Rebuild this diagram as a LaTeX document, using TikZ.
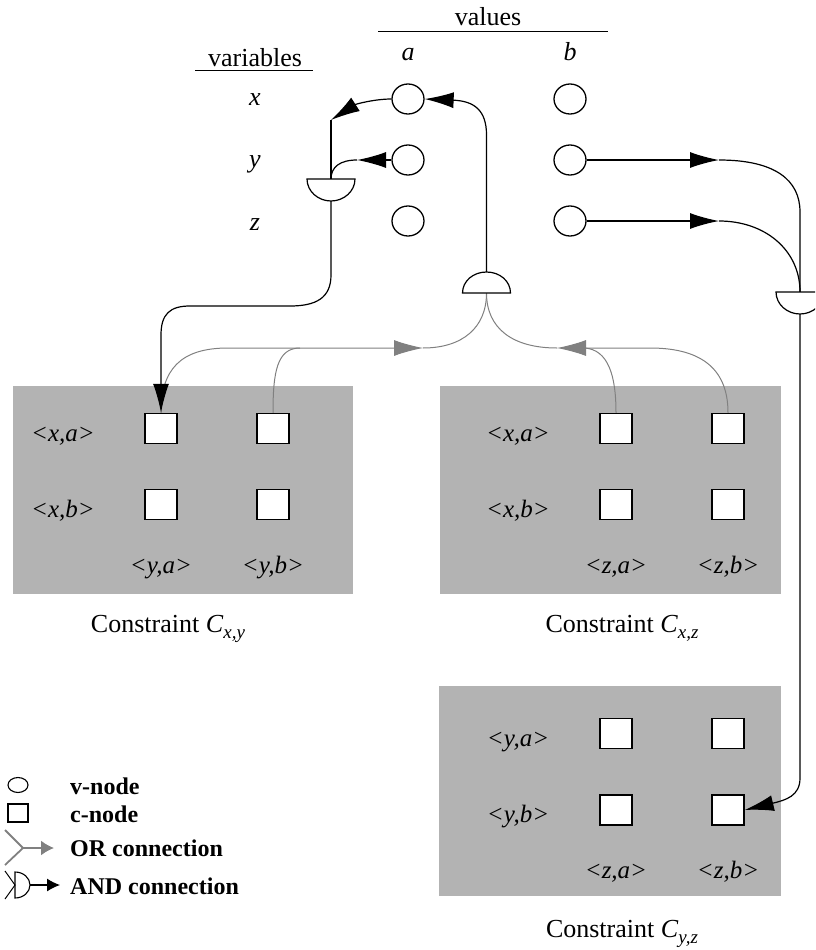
\documentclass[tikz,border=0pt]{standalone}
\usepackage{fontspec}
\setmainfont{Liberation Serif}
\usetikzlibrary{shapes.geometric,arrows.meta}
\definecolor{boxgray}{RGB}{179,179,179}
\definecolor{gry}{RGB}{128,128,128}
\tikzset{
  gatedn/.pic={\draw[line width=1.2pt,fill=white] (-24,0) -- (24,0) .. controls (24,12) and (13.2,22) .. (0,22) .. controls (-13.2,22) and (-24,12) .. (-24,0) -- cycle;},
  gateup/.pic={\draw[line width=1.2pt,fill=white] (-24,0) -- (24,0) .. controls (24,-12) and (13.2,-21) .. (0,-21) .. controls (-13.2,-21) and (-24,-12) .. (-24,0) -- cycle;}
}
\begin{document}
\begin{tikzpicture}[x=1pt,y=-1pt,
  vnode/.style={ellipse,draw,line width=1.3pt,minimum width=32pt,minimum height=30pt,inner sep=0pt,fill=white},
  cnode/.style={rectangle,draw,line width=1.5pt,minimum width=32pt,minimum height=30pt,inner sep=0pt,fill=white},
  txt/.style={inner sep=0pt,anchor=base,font=\fontsize{26}{30}\selectfont},
  itxt/.style={inner sep=0pt,anchor=base,font=\fontsize{26}{30}\selectfont\itshape},
  lbl/.style={inner sep=0pt,anchor=base,font=\fontsize{25}{30}\selectfont\itshape},
  legtxt/.style={inner sep=0pt,anchor=base west,font=\fontsize{24}{28}\selectfont\bfseries},
  blk/.style={line width=1.2pt,black},
  gryl/.style={line width=1pt,draw=gry},
  bar/.style={-{Latex[length=29pt,width=16pt]}},
  gbar/.style={-{Latex[length=29pt,width=16pt,fill=gry]}},
  cbox/.style={fill=boxgray,draw=none,inner sep=0pt,anchor=north west}
]
\clip (0,0) rectangle (815,950);
\useasboundingbox (0,0) rectangle (815,950);

% headers
\node[txt] (values) at (488,26) {values};
\draw[line width=1pt] (378,31.5) -- (608,31.5);
\node[txt] (variables) at (255,66.5) {variables};
\draw[line width=1pt] (195,71) -- (313,71);
\node[itxt] (la) at (408,60) {a};
\node[itxt] (lb) at (570,60) {b};
\node[itxt] (lx) at (255,105) {x};
\node[itxt] (ly) at (255,167) {y};
\node[itxt] (lz) at (255,230) {z};

% v-nodes
\node[vnode] (xa) at (408,99) {};
\node[vnode] (ya) at (408,160) {};
\node[vnode] (za) at (408,221) {};
\node[vnode] (xb) at (570,99) {};
\node[vnode] (yb) at (570,160) {};
\node[vnode] (zb) at (570,221) {};

% constraint boxes
\node[cbox,minimum width=340pt,minimum height=208pt] (Cxy) at (13,386) {};
\node[cbox,minimum width=341pt,minimum height=208pt] (Cxz) at (440,386) {};
\node[cbox,minimum width=342pt,minimum height=210pt] (Cyz) at (439,686) {};

% c-nodes
\node[cnode] (cxy11) at (161,428.5) {};
\node[cnode] (cxy12) at (273,428.5) {};
\node[cnode] (cxy21) at (161,504.5) {};
\node[cnode] (cxy22) at (273,504.5) {};
\node[cnode] (cxz11) at (616,428.5) {};
\node[cnode] (cxz12) at (728,428.5) {};
\node[cnode] (cxz21) at (616,504.5) {};
\node[cnode] (cxz22) at (728,504.5) {};
\node[cnode] (cyz11) at (616,733.5) {};
\node[cnode] (cyz12) at (728,733.5) {};
\node[cnode] (cyz21) at (616,810) {};
\node[cnode] (cyz22) at (728,810) {};

% box labels
\node[lbl] (txa1) at (63,441) {<x,a>};
\node[lbl] (txb1) at (63,517) {<x,b>};
\node[lbl] (tya1) at (161,573) {<y,a>};
\node[lbl] (tyb1) at (273,573) {<y,b>};
\node[lbl] (txa2) at (518,441) {<x,a>};
\node[lbl] (txb2) at (518,517) {<x,b>};
\node[lbl] (tza2) at (616,573) {<z,a>};
\node[lbl] (tzb2) at (728,573) {<z,b>};
\node[lbl] (tya3) at (518,746) {<y,a>};
\node[lbl] (tyb3) at (518,822) {<y,b>};
\node[lbl] (tza3) at (616,878) {<z,a>};
\node[lbl] (tzb3) at (728,878) {<z,b>};

% captions
\node[txt] (capxy) at (168,632) {Constraint \textit{C}\raisebox{-6pt}{\fontsize{19}{20}\selectfont\itshape x,y}};
\node[txt] (capxz) at (622,632) {Constraint \textit{C}\raisebox{-6pt}{\fontsize{19}{20}\selectfont\itshape x,z}};
\node[txt] (capyz) at (622,937) {Constraint \textit{C}\raisebox{-6pt}{\fontsize{19}{20}\selectfont\itshape y,z}};

% gate coordinates
\coordinate (gLtop) at (331,179);
\coordinate (gLbot) at (331,201);
\coordinate (gMbot) at (486.5,293);
\coordinate (gMtop) at (486.5,272);
\coordinate (gRtop) at (800,292);
\coordinate (gRbot) at (800,313.5);
\coordinate (orL) at (423,348);
\coordinate (orR) at (557,348);
\coordinate (kx) at (331,120);
\coordinate (ky) at (357,160);
\coordinate (kyb) at (719,160);
\coordinate (kzb) at (719,221);

% OR connections (gray)
\draw[gryl,gbar] (cxy11.north) .. controls (161,370) and (180,348) .. (228,348) -- (orL);
\draw[gryl] (cxy12.north) .. controls (273,372) and (277,348) .. (300,348);
\draw[gryl] (orL) .. controls (462,348) and (486.5,328) .. (gMbot);
\draw[gryl,gbar] (cxz12.north) .. controls (728,372) and (705,348) .. (650,348) -- (orR);
\draw[gryl] (cxz11.north) .. controls (616,375) and (608,350) .. (585,348);
\draw[gryl] (orR) .. controls (512,348) and (486.5,328) .. (gMbot);

% AND connections (black)
\draw[blk,bar] (gMtop) -- (486.5,135) .. controls (486.5,110) and (474,101) .. (xa.east);
\draw[blk,bar] (xa.west) .. controls (375,99) and (356,104) .. (kx);
\draw[blk] (kx) -- (gLtop);
\draw[blk,bar] (ya.west) -- (ky);
\draw[blk] (ky) .. controls (340,160) and (331,167) .. (gLtop);
\draw[blk,bar] (gLbot) -- (331,275) .. controls (331,298) and (316,306) .. (290,306) -- (190,306) .. controls (170,306) and (161,314) .. (161,335) -- (cxy11.north);
\draw[blk,bar] (yb.east) -- (kyb);
\draw[blk] (kyb) .. controls (775,160) and (800,180) .. (800,212) -- (gRtop);
\draw[blk,bar] (zb.east) -- (kzb);
\draw[blk] (kzb) .. controls (765,221) and (800,250) .. (gRtop);
\draw[blk,bar] (gRbot) -- (800,778) .. controls (800,796) and (786,800) .. (cyz22.east);

% gates
\pic at (gLtop) {gatedn};
\pic at (gMbot) {gateup};
\pic at (gRtop) {gatedn};

% legend
\node[ellipse,draw,line width=1.1pt,minimum width=20pt,minimum height=15pt,inner sep=0pt] (lv) at (18,785) {};
\node[rectangle,draw,line width=1.1pt,minimum width=20pt,minimum height=18pt,inner sep=0pt] (lc) at (18,813) {};
\coordinate (orj) at (23,848);
\coordinate (ortip) at (54,848);
\draw[draw=gry,line width=1.8pt] (5,830) -- (orj) -- (5,865);
\draw[draw=gry,line width=1.8pt,-{Latex[length=13pt,width=15pt,fill=gry]}] (orj) -- (ortip);
\coordinate (andj) at (15,885);
\coordinate (andout) at (30,885);
\coordinate (andtip) at (60,885);
\draw[line width=1pt] (5,871) -- (andj) -- (5,899);
\draw[line width=1.1pt] (15,872) .. controls (23.3,872) and (30,877.8) .. (andout) .. controls (30,892.2) and (23.3,898) .. (15,898) -- cycle;
\draw[line width=1.1pt,-{Latex[length=13pt,width=13pt]}] (andout) -- (andtip);
\node[legtxt] (tv) at (70,794) {v-node};
\node[legtxt] (tc) at (70,822) {c-node};
\node[legtxt] (tor) at (70,856) {OR connection};
\node[legtxt] (tand) at (70,894) {AND connection};
\end{tikzpicture}
\end{document}
